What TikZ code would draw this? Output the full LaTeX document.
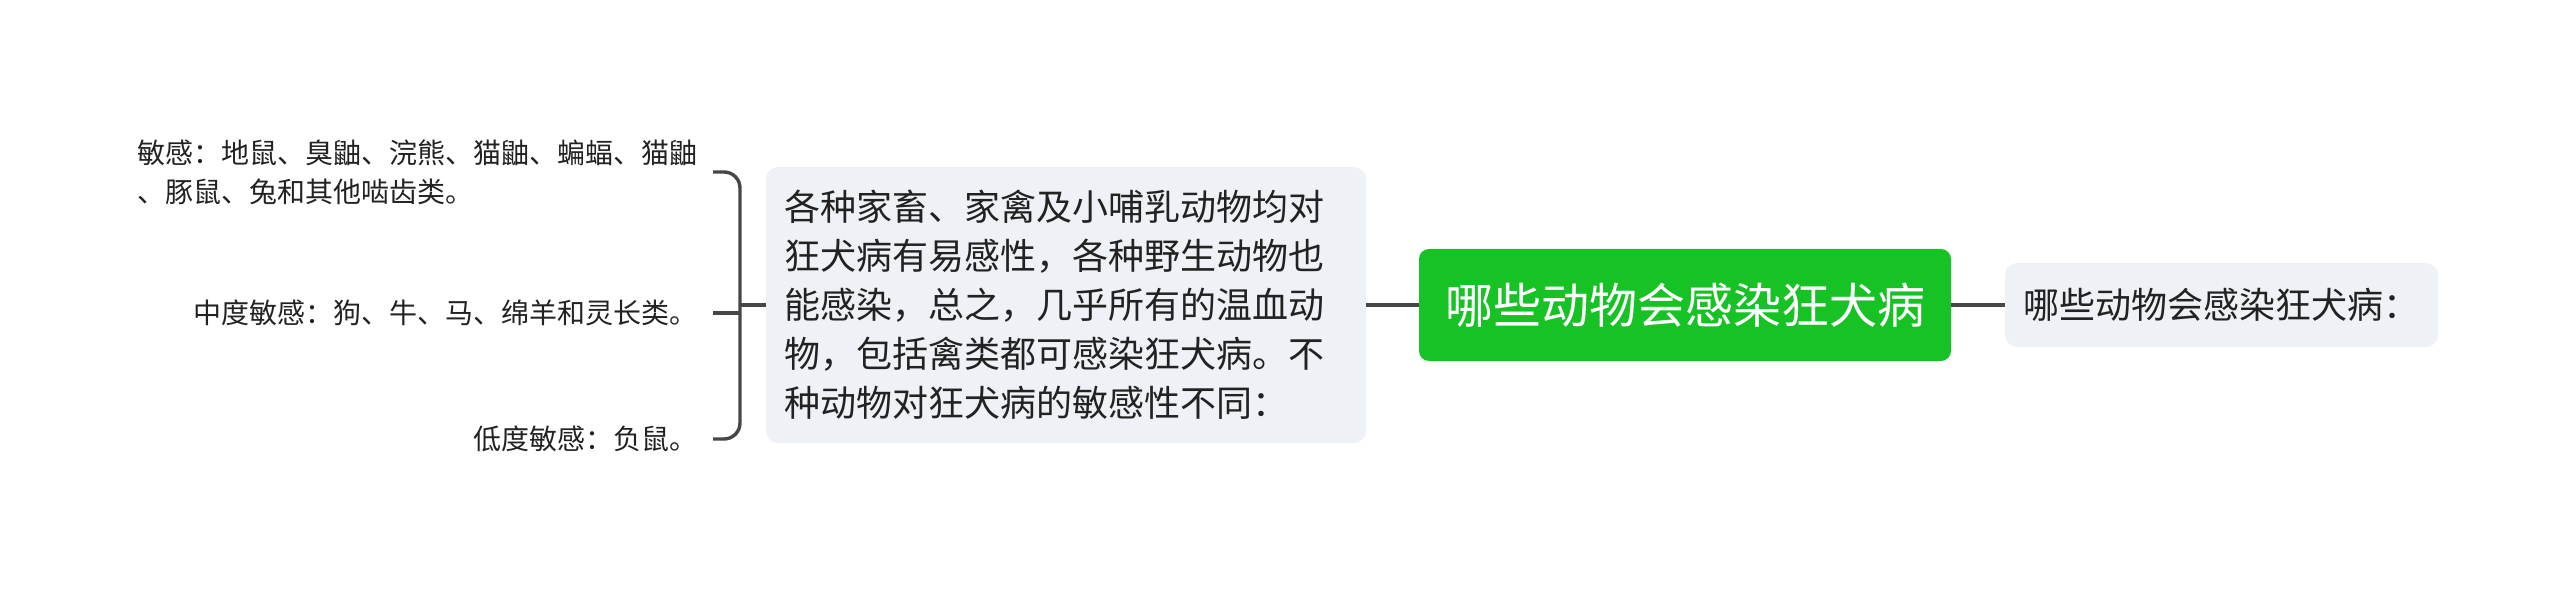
\documentclass[tikz,border=0pt]{standalone}
\usepackage{fontspec}
\usepackage{tikz}
\newfontfamily\cjk{Noto Sans CJK SC}
\definecolor{topicgreen}{RGB}{22,194,36}
\definecolor{boxgray}{RGB}{238,241,245}
\definecolor{linegray}{RGB}{70,70,70}
\definecolor{textgray}{RGB}{34,34,34}
\tikzset{
  rootbox/.style={fill=topicgreen, text=white, rounded corners=5pt, minimum width=266pt, minimum height=56pt, inner sep=0pt, font={\cjk\fontsize{24pt}{30pt}\selectfont}},
  subbox/.style={fill=boxgray, text=textgray, rounded corners=6pt, inner sep=0pt, font={\cjk\fontsize{18pt}{24.5pt}\selectfont}},
  leaftext/.style={text=textgray, anchor=east, inner xsep=7.5pt, inner ysep=0pt, align=left, font={\cjk\fontsize{14pt}{19.5pt}\selectfont}},
  link/.style={draw=linegray, line width=1.7pt},
}

\begin{document}
\begin{tikzpicture}[x=0.5pt,y=-0.5pt]
\useasboundingbox (0,0) rectangle (2560,593);

\node[rootbox] (root) at (1685,305) {哪些动物会感染狂犬病};
\node[subbox, minimum width=216.5pt, minimum height=42pt] (note) at (2221.5,305) {哪些动物会感染狂犬病：};
\node[subbox, minimum width=300pt, minimum height=138pt, text width=282pt, align=left] (body) at (1066,305)
  {各种家畜、家禽及小哺乳动物均对\\狂犬病有易感性，各种野生动物也\\能感染，总之，几乎所有的温血动\\物，包括禽类都可感染狂犬病。不\\种动物对狂犬病的敏感性不同：};

\node[leaftext] (high) at (713,172) {敏感：地鼠、臭鼬、浣熊、猫鼬、蝙蝠、猫鼬\\、豚鼠、兔和其他啮齿类。};
\node[leaftext] (mid) at (713,313) {中度敏感：狗、牛、马、绵羊和灵长类。};
\node[leaftext] (low) at (713,439) {低度敏感：负鼠。};

\coordinate (bus) at (740,305);
\draw[link] (body) -- (root);
\draw[link] (root) -- (note);
\draw[link, rounded corners=8pt] (high.east) -- (high.east -| bus) -- (low.east -| bus) -- (low.east);
\draw[link] (mid.east) -- (mid.east -| bus);
\draw[link] (bus) -- (body.west);
\end{tikzpicture}
\end{document}
